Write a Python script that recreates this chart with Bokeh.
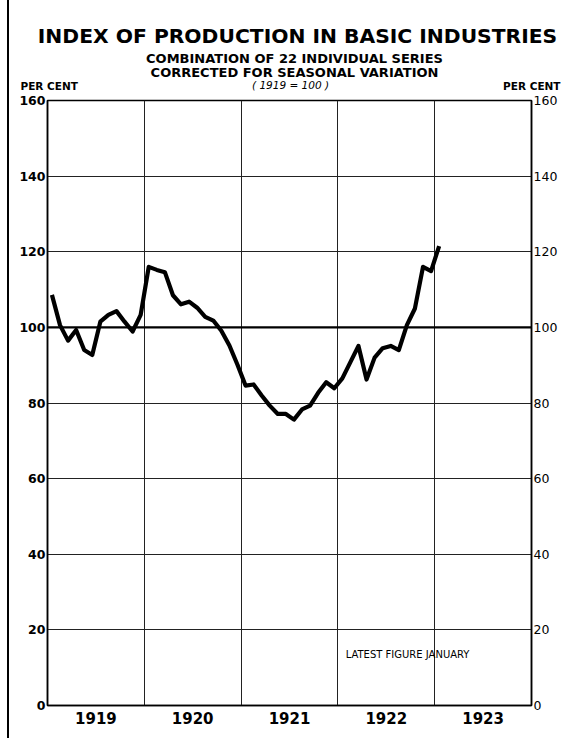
from bokeh.plotting import figure
from bokeh.layouts import column
from bokeh.models import ColumnDataSource, FixedTicker, LinearAxis, Range1d, Span, Label
from bokeh.embed import file_html
from bokeh.resources import INLINE

# ---- data (index, 1919 = 100), monthly, corrected for seasonal variation ----
years = [1919, 1920, 1921, 1922, 1923]
index_1919 = [108.6, 100.6, 96.5, 99.3, 94.0, 92.7, 101.5, 103.3, 104.3, 101.5, 98.9, 103.3]
index_1920 = [116.0, 115.2, 114.6, 108.5, 106.1, 106.8, 105.2, 102.8, 101.8, 99.1, 95.2, 90.1]
index_1921 = [84.6, 84.9, 82.0, 79.3, 77.1, 77.1, 75.6, 78.3, 79.3, 82.7, 85.5, 83.9]
index_1922 = [86.5, 90.8, 95.1, 86.2, 92.0, 94.5, 95.1, 94.0, 100.6, 105.0, 116.0, 114.9]
index_1923 = [121.5]
y_ticks = [0, 20, 40, 60, 80, 100, 120, 140, 160]
year_labels = ["1919", "1920", "1921", "1922", "1923"]

series = [index_1919, index_1920, index_1921, index_1922, index_1923]
xs, ys = [], []
for yr, vals in zip(years, series):
    for m, v in enumerate(vals):
        xs.append(yr + (m + 0.55) / 12.0)
        ys.append(v)
src = ColumnDataSource(dict(x=xs, y=ys))

FONT = "DejaVu Sans"
W = 555
H_HEAD = 92

# ---- header (titles) ----
head = figure(width=W, height=H_HEAD, output_backend="svg", toolbar_location=None,
              x_range=Range1d(0, W), y_range=Range1d(H_HEAD, 0),
              min_border=0, min_border_left=0, min_border_right=0,
              min_border_top=0, min_border_bottom=0)
head.frame_align = False
head.axis.visible = False
head.grid.visible = False
head.outline_line_color = None
head.background_fill_color = "white"
head.border_fill_color = "white"


def lab(fig, x, y, text, size, style="normal", align="center"):
    fig.add_layout(Label(x=x, y=y, text=text, text_font=FONT, text_font_size=size,
                         text_font_style=style, text_align=align, text_baseline="middle",
                         text_color="black"))


lab(head, 288, 35, "INDEX OF PRODUCTION IN BASIC INDUSTRIES", "20.3px", style="bold")
lab(head, 285, 58, "COMBINATION OF 22 INDIVIDUAL SERIES", "13px", style="bold")
lab(head, 285, 72, "CORRECTED FOR SEASONAL VARIATION", "13px", style="bold")
lab(head, 281, 84.5, "( 1919 = 100 )", "10.5px", style="italic")
lab(head, 11, 85, "PER CENT", "10.5px", style="bold", align="left")
lab(head, 551, 85, "PER CENT", "10.5px", style="bold", align="right")

# ---- main chart ----
p = figure(width=W, height=646, output_backend="svg", toolbar_location=None,
           x_range=Range1d(1919, 1924), y_range=Range1d(0, 160),
           min_border_left=38, min_border_right=33, min_border_top=8, min_border_bottom=33)
p.background_fill_color = "white"
p.border_fill_color = "white"
p.outline_line_color = "black"
p.outline_line_width = 1.5

p.xgrid.ticker = FixedTicker(ticks=[1920, 1921, 1922, 1923])
p.ygrid.ticker = FixedTicker(ticks=y_ticks)
for g in (p.xgrid, p.ygrid):
    g.grid_line_color = "#222222"
    g.grid_line_width = 1
    g.grid_line_alpha = 1
p.add_layout(Span(location=100, dimension="width", line_color="black", line_width=2.2))

p.xaxis.ticker = FixedTicker(ticks=[y + 0.5 for y in years])
p.xaxis.major_label_overrides = {y + 0.5: lab_ for y, lab_ in zip(years, year_labels)}
p.xaxis.major_tick_out = 0
p.xaxis.major_tick_in = 0
p.xaxis.minor_tick_out = 0
p.xaxis.minor_tick_in = 0
p.xaxis.axis_line_color = "black"
p.xaxis.axis_line_width = 1.5
p.xaxis.major_label_standoff = 6
p.xaxis.major_label_text_font = FONT
p.xaxis.major_label_text_font_style = "bold"
p.xaxis.major_label_text_font_size = "15px"
p.xaxis.major_label_text_color = "black"

right = LinearAxis()
p.add_layout(right, "right")
for ax in (p.yaxis[0], right):
    ax.ticker = FixedTicker(ticks=y_ticks)
    ax.major_tick_out = 0
    ax.major_tick_in = 0
    ax.minor_tick_out = 0
    ax.minor_tick_in = 0
    ax.axis_line_color = "black"
    ax.axis_line_width = 1.5
    ax.major_label_standoff = 2
    ax.major_label_text_font = FONT
    ax.major_label_text_font_size = "12.5px"
    ax.major_label_text_color = "black"
p.yaxis[0].major_label_text_font_style = "bold"

p.line("x", "y", source=src, line_color="black", line_width=4.2, line_join="round")

lab(p, 1922.08, 13.5, "LATEST FIGURE   JANUARY", "10px", align="left")

layout = column(head, p, spacing=0, margin=(0, 0, 0, 7),
                styles={"border-left": "2px solid black"})

open("out.html", "w").write(file_html(layout, INLINE))
